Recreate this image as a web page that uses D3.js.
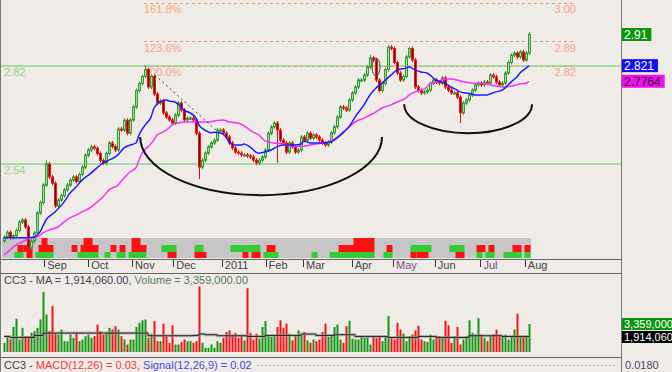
<!DOCTYPE html>
<html>
<head>
<meta charset="utf-8">
<script src="https://cdn.jsdelivr.net/npm/d3@7"></script>
<style>
html, body { margin: 0; padding: 0; background: #efebe6; }
svg { display: block; font-family: "Liberation Sans", Arial, sans-serif; }
</style>
</head>
<body>
<svg width="672" height="372"></svg>
<script>
// ---- data ----
var firstOpen = 2.32;
var closes = [
  2.331, 2.345, 2.33, 2.335, 2.35, 2.374, 2.38, 2.36, 2.30, 2.32,
  2.343, 2.40, 2.43, 2.48, 2.54, 2.503, 2.485, 2.42, 2.437, 2.45,
  2.466, 2.48, 2.494, 2.503, 2.49, 2.51, 2.531, 2.565, 2.58, 2.589,
  2.585, 2.57, 2.55, 2.543, 2.57, 2.60, 2.59, 2.58, 2.64, 2.637,
  2.665, 2.628, 2.666, 2.703, 2.75, 2.77, 2.79, 2.81, 2.76, 2.79,
  2.74, 2.714, 2.72, 2.686, 2.674, 2.666, 2.657, 2.68, 2.714, 2.694,
  2.666, 2.671, 2.671, 2.666, 2.628, 2.531, 2.551, 2.571, 2.589, 2.60,
  2.608, 2.637, 2.637, 2.628, 2.617, 2.60, 2.586, 2.574, 2.571, 2.566,
  2.566, 2.563, 2.56, 2.551, 2.543, 2.551, 2.56, 2.58, 2.628, 2.646,
  2.657, 2.637, 2.608, 2.60, 2.574, 2.60, 2.589, 2.574, 2.58, 2.617,
  2.608, 2.628, 2.614, 2.623, 2.617, 2.608, 2.60, 2.594, 2.603, 2.629,
  2.646, 2.674, 2.703, 2.70, 2.694, 2.723, 2.743, 2.76, 2.78, 2.78,
  2.794, 2.817, 2.843, 2.837, 2.78, 2.75, 2.77, 2.81, 2.874, 2.87,
  2.83, 2.80, 2.78, 2.79, 2.846, 2.87, 2.837, 2.76, 2.75, 2.743,
  2.746, 2.751, 2.77, 2.78, 2.774, 2.771, 2.786, 2.76, 2.751, 2.743,
  2.743, 2.731, 2.686, 2.714, 2.723, 2.737, 2.751, 2.766, 2.771, 2.766,
  2.774, 2.771, 2.794, 2.789, 2.774, 2.766, 2.771, 2.80, 2.83, 2.851,
  2.857, 2.846, 2.86, 2.837, 2.857, 2.91
];
// [bar, low or high] where the wick sticks out far
var longWicks = [[14, 2.55], [47, 2.822], [65, 2.497], [91, 2.543], [122, 2.852], [128, 2.88], [152, 2.657], [175, 2.917]];

// volume in millions
var volumes = [
  1.1, 1.9, 1.5, 3.0, 4.0, 1.5, 2.9, 1.9, 1.9, 2.3,
  2.5, 2.9, 3.9, 7.2, 4.5, 2.5, 5.5, 2.2, 2.1, 2.7,
  1.3, 1.3, 2.1, 1.7, 2.4, 1.3, 1.5, 1.9, 2.1, 1.7,
  1.9, 3.3, 2.5, 2.1, 2.3, 2.9, 2.7, 3.1, 2.7, 1.9,
  1.5, 0.9, 1.5, 1.5, 3.0, 3.5, 3.8, 3.9, 1.7, 2.2,
  3.7, 1.3, 1.3, 3.4, 1.9, 1.1, 3.2, 0.9, 0.9, 1.2,
  1.5, 1.3, 1.3, 1.1, 1.3, 7.85, 1.1, 0.5, 0.5, 0.9,
  0.5, 1.3, 1.1, 1.7, 2.4, 2.6, 2.1, 2.3, 1.7, 1.9,
  1.4, 7.65, 2.3, 1.5, 2.2, 1.6, 3.0, 3.7, 2.0, 1.8,
  1.9, 3.0, 3.8, 2.9, 3.4, 2.2, 1.4, 2.0, 2.6, 2.0,
  2.4, 1.4, 1.1, 1.5, 1.3, 1.5, 2.4, 3.4, 1.8, 2.1,
  3.0, 3.3, 1.5, 1.1, 3.1, 3.75, 1.6, 1.5, 1.5, 1.9,
  1.7, 1.8, 0.9, 1.9, 1.7, 1.9, 1.3, 1.8, 4.3, 1.7,
  1.5, 3.5, 2.7, 2.2, 1.3, 1.9, 2.1, 2.6, 3.15, 1.5,
  1.3, 1.2, 2.1, 1.5, 1.9, 1.9, 1.75, 3.75, 3.2, 1.1,
  1.9, 3.0, 0.9, 1.5, 1.9, 3.8, 2.3, 2.1, 4.06, 2.1,
  1.7, 1.3, 1.9, 2.1, 2.7, 2.1, 1.9, 2.1, 1.5, 1.9,
  2.7, 4.6, 1.9, 1.9, 1.9, 3.359
];
var volMA = [[0, 1.87], [2, 1.75], [10, 1.99], [13, 2.27], [21, 2.27], [32, 2.27], [45, 2.27], [48, 1.95],
  [54, 1.95], [63, 1.99], [65, 2.15], [67, 2.07], [71, 1.95], [76, 1.95], [81, 1.87], [87, 1.99],
  [99, 2.15], [104, 1.99], [110, 2.07], [115, 2.07], [117, 1.87], [126, 1.87], [128, 1.75],
  [138, 1.87], [144, 1.75], [155, 1.95], [162, 1.95], [166, 1.87], [175, 1.914]];

// moving averages, [bar, price]
var blueMA = [[0, 2.329], [5, 2.329], [10, 2.331], [12, 2.346], [14, 2.38], [17, 2.403], [20, 2.431],
  [22, 2.457], [24, 2.474], [26, 2.494], [29, 2.514], [31, 2.529], [33, 2.543], [35, 2.551],
  [38, 2.566], [40, 2.586], [42, 2.594], [44, 2.60], [45, 2.623], [47, 2.651], [49, 2.674],
  [50, 2.70], [52, 2.717], [54, 2.723], [55, 2.72], [57, 2.717], [59, 2.703], [60, 2.694],
  [62, 2.686], [64, 2.671], [65, 2.651], [67, 2.637], [69, 2.629], [70, 2.631], [72, 2.629],
  [74, 2.617], [75, 2.603], [77, 2.594], [79, 2.594], [80, 2.597], [82, 2.589], [84, 2.574],
  [85, 2.571], [87, 2.574], [89, 2.58], [91, 2.589], [93, 2.594], [97, 2.594], [99, 2.597],
  [100, 2.606], [102, 2.60], [106, 2.60], [109, 2.603], [111, 2.614], [113, 2.629], [115, 2.646],
  [117, 2.674], [120, 2.709], [122, 2.737], [124, 2.757], [126, 2.771], [129, 2.794], [131, 2.809],
  [134, 2.814], [135, 2.817], [137, 2.809], [139, 2.803], [141, 2.80], [142, 2.794], [144, 2.78],
  [146, 2.774], [147, 2.771], [149, 2.76], [151, 2.751], [152, 2.746], [154, 2.743], [156, 2.74],
  [157, 2.737], [161, 2.737], [162, 2.74], [164, 2.746], [166, 2.751], [167, 2.757], [169, 2.774],
  [171, 2.789], [172, 2.80], [174, 2.814], [175, 2.821]];
var pinkMA = [[0, 2.28], [2, 2.294], [4, 2.309], [6, 2.317], [9, 2.329], [11, 2.331], [13, 2.343],
  [15, 2.351], [18, 2.36], [20, 2.374], [22, 2.386], [24, 2.394], [26, 2.403], [29, 2.417],
  [31, 2.431], [33, 2.446], [35, 2.466], [38, 2.48], [40, 2.50], [42, 2.517], [44, 2.53],
  [45, 2.551], [46, 2.571], [48, 2.589], [50, 2.609], [51, 2.623], [53, 2.631], [55, 2.643],
  [56, 2.651], [58, 2.657], [60, 2.66], [68, 2.66], [70, 2.663], [73, 2.666], [75, 2.66],
  [78, 2.657], [80, 2.649], [81, 2.643], [83, 2.631], [85, 2.623], [86, 2.614], [87, 2.606],
  [90, 2.60], [93, 2.597], [95, 2.594], [97, 2.591], [100, 2.591], [102, 2.594], [104, 2.597],
  [106, 2.60], [109, 2.606], [111, 2.617], [113, 2.631], [115, 2.646], [117, 2.66], [120, 2.671],
  [122, 2.68], [124, 2.689], [126, 2.70], [129, 2.709], [131, 2.717], [134, 2.729], [135, 2.737],
  [137, 2.746], [139, 2.751], [141, 2.76], [142, 2.771], [144, 2.774], [146, 2.78], [147, 2.783],
  [149, 2.783], [151, 2.78], [152, 2.777], [154, 2.774], [156, 2.771], [159, 2.771], [161, 2.769],
  [162, 2.766], [164, 2.763], [166, 2.76], [167, 2.76], [169, 2.763], [171, 2.766], [172, 2.769],
  [174, 2.771], [175, 2.7764]];

// sentiment strip: [fromBar, toBar, row (0 top .. 2 bottom), colour]
var strip = [[4, 6, 2, "g"], [5, 6, 1, "r"], [7, 9, 1, "r"], [8, 9, 2, "r"], [11, 16, 2, "g"], [12, 16, 1, "r"],
  [13, 14, 0, "r"], [23, 24, 1, "r"], [25, 31, 2, "g"], [26, 31, 1, "r"], [27, 29, 0, "r"], [34, 35, 2, "g"],
  [36, 37, 1, "r"], [38, 40, 2, "g"], [39, 40, 1, "r"], [42, 47, 2, "g"], [43, 47, 1, "r"], [43, 45, 0, "r"],
  [53, 57, 1, "g"], [55, 57, 2, "r"], [64, 67, 2, "r"], [64, 66, 1, "g"], [76, 80, 1, "g"], [80, 81, 2, "r"],
  [81, 85, 1, "g"], [83, 85, 2, "r"], [87, 91, 2, "g"], [88, 90, 1, "r"], [103, 104, 2, "g"],
  [109, 123, 2, "g"], [112, 123, 1, "r"], [117, 123, 0, "r"], [127, 129, 2, "g"], [128, 129, 1, "r"],
  [136, 142, 1, "g"], [136, 137, 2, "r"], [138, 141, 2, "r"], [149, 153, 1, "g"], [151, 153, 2, "r"],
  [158, 160, 1, "r"], [158, 159, 2, "g"], [161, 163, 2, "g"], [162, 163, 1, "r"], [167, 172, 2, "g"],
  [170, 172, 1, "r"], [174, 175, 1, "r"], [174, 175, 2, "g"]];

var monthLabels = ["Sep", "Oct", "Nov", "Dec", "2011", "Feb", "Mar", "Apr", "May", "Jun", "Jul", "Aug"];
var monthBars = [13.4, 28.1, 42.7, 56.4, 72.6, 87.2, 99.7, 115.9, 129.7, 143.6, 158.8, 173.6];

var supportLevels = [2.82, 2.54];
var fibLevels = [3.00, 2.89, 2.82];
var fibNames = ["161.8%", "123.6%", "100.0%"];

// ---- scales ----
var svg = d3.select("svg"),
  width = +svg.attr("width"),
  height = +svg.attr("height");

var axisX = 621;
var x = d3.scaleLinear().domain([0, closes.length - 1]).range([4, 529]);
var y = d3.scaleLinear().domain([2.54, 2.82]).range([164, 66]);
var yVol = d3.scaleLinear().domain([0, 3.359]).range([352, 324]);

var opens = closes.map(function(c, i) { return i === 0 ? firstOpen : closes[i - 1]; });
var bars = closes.map(function(c, i) {
  return { i: i, o: opens[i], c: c, up: c >= opens[i], v: volumes[i] };
});
longWicks.forEach(function(w) { bars[w[0]].tip = w[1]; });

svg.append("rect").attr("width", width).attr("height", height).attr("fill", "#efebe6");

// support lines
supportLevels.forEach(function(p) {
  svg.append("line")
    .attr("x1", 0).attr("x2", axisX)
    .attr("y1", y(p)).attr("y2", y(p))
    .attr("stroke", "#a6dca6").attr("stroke-width", 2);
  svg.append("text")
    .attr("x", 4).attr("y", y(p) + 10)
    .attr("fill", "#94d094").style("font-size", "11px")
    .text(d3.format(".2f")(p));
});

// fibonacci levels
fibLevels.forEach(function(p, k) {
  svg.append("line")
    .attr("x1", 144).attr("x2", 576)
    .attr("y1", Math.round(y(p)) + 0.5).attr("y2", Math.round(y(p)) + 0.5)
    .attr("stroke", "#f0946a").attr("stroke-dasharray", "3,3");
  svg.append("text")
    .attr("x", 144).attr("y", y(p) + 10)
    .attr("fill", "#f4a585").style("font-size", "11px")
    .text(fibNames[k]);
  svg.append("text")
    .attr("x", 576).attr("y", y(p) + 10)
    .attr("text-anchor", "end")
    .attr("fill", "#f4a585").style("font-size", "11px")
    .text(d3.format(".2f")(p));
});

// sentiment strip
var rowY = [238, 245, 252], rowH = [7, 7, 6];
svg.append("rect")
  .attr("x", x(0) - 2).attr("y", 238)
  .attr("width", x(closes.length - 1) - x(0) + 4).attr("height", 20)
  .attr("fill", "#c6c6c6");
svg.append("g").selectAll("rect")
  .data(strip)
  .enter().append("rect")
  .attr("x", function(d) { return x(d[0]) - 1.5; })
  .attr("width", function(d) { return x(d[1]) - x(d[0]) + 3; })
  .attr("y", function(d) { return rowY[d[2]]; })
  .attr("height", function(d) { return rowH[d[2]]; })
  .attr("fill", function(d) { return d[3] === "r" ? "#ff1010" : "#33cc33"; });

// candles
var candle = svg.append("g").selectAll("g")
  .data(bars)
  .enter().append("g");
candle.append("line")
  .attr("x1", function(d) { return x(d.i) + 0.5; })
  .attr("x2", function(d) { return x(d.i) + 0.5; })
  .attr("y1", function(d) {
    var top = y(Math.max(d.o, d.c)) - 2;
    return d.tip && d.tip > d.c ? Math.min(top, y(d.tip)) : top;
  })
  .attr("y2", function(d) {
    var bot = y(Math.min(d.o, d.c)) + 2;
    return d.tip && d.tip < d.c ? Math.max(bot, y(d.tip)) : bot;
  })
  .attr("stroke", function(d) { return d.up ? "#2e9e2e" : "#e01010"; });
candle.append("rect")
  .attr("x", function(d) { return x(d.i) - 0.5; })
  .attr("width", 2)
  .attr("y", function(d) { return y(Math.max(d.o, d.c)); })
  .attr("height", function(d) { return Math.max(1, Math.abs(y(d.o) - y(d.c))); })
  .attr("fill", function(d) { return d.up ? "#a9d8a2" : "#7a0000"; })
  .attr("stroke", function(d) { return d.up ? "#2e9e2e" : "#ee1a1a"; });

// moving averages
var maLine = d3.line()
  .x(function(d) { return x(d[0]); })
  .y(function(d) { return y(d[1]); })
  .curve(d3.curveMonotoneX);
svg.append("path").datum(pinkMA).attr("d", maLine)
  .attr("fill", "none").attr("stroke", "#ff2cff").attr("stroke-width", 1.5);
svg.append("path").datum(blueMA).attr("d", maLine)
  .attr("fill", "none").attr("stroke", "#1c1cff").attr("stroke-width", 1.5);

// hand drawn annotations (cups, trend line, circle)
function cup(ci, cp, ri, rp) {
  var x0 = x(ci - ri), x1 = x(ci + ri), yc = y(cp);
  var rx = (x1 - x0) / 2, ry = y(cp - rp) - yc;
  return "M" + x0 + "," + yc + " A" + rx + "," + ry + " 0 0 0 " + x1 + "," + yc;
}
svg.append("path").attr("d", cup(85.7, 2.617, 40.3, 0.166))
  .attr("fill", "none").attr("stroke", "#111").attr("stroke-width", 2);
svg.append("path").attr("d", cup(154.7, 2.711, 21.3, 0.083))
  .attr("fill", "none").attr("stroke", "#111").attr("stroke-width", 2);
svg.append("line")
  .attr("x1", x(50.3)).attr("y1", y(2.794))
  .attr("x2", x(70.7)).attr("y2", y(2.637))
  .attr("stroke", "#444").attr("stroke-dasharray", "2,3");
svg.append("ellipse")
  .attr("cx", x(124)).attr("cy", y(2.817)).attr("rx", 4).attr("ry", 9)
  .attr("fill", "none").attr("stroke", "#444");

// frame
[259.5, 273.5, 357.5].forEach(function(v) {
  svg.append("line").attr("x1", 0).attr("x2", axisX).attr("y1", v).attr("y2", v)
    .attr("stroke", "#666");
});
svg.append("line").attr("x1", axisX + 0.5).attr("x2", axisX + 0.5).attr("y1", 0).attr("y2", height)
  .attr("stroke", "#777");
svg.append("line").attr("x1", 0.5).attr("x2", 0.5).attr("y1", 0).attr("y2", height)
  .attr("stroke", "#777");

// month axis
var months = svg.append("g").selectAll("g")
  .data(monthBars)
  .enter().append("g");
months.append("line")
  .attr("x1", function(d) { return Math.round(x(d)) + 0.5; })
  .attr("x2", function(d) { return Math.round(x(d)) + 0.5; })
  .attr("y1", 260).attr("y2", 267)
  .attr("stroke", "#333");
months.append("text")
  .attr("x", function(d) { return x(d) + 3; })
  .attr("y", 269)
  .style("font-size", "11px")
  .attr("fill", function(d, k) { return monthLabels[k] === "May" || monthLabels[k] === "Jul" ? "#7a4a8c" : "#444"; })
  .text(function(d, k) { return monthLabels[k]; });

// value tags on the right
function tag(txt, bg, fg, yy, size, h) {
  var g = svg.append("g");
  var t = g.append("text").attr("x", axisX + 3).attr("y", yy + size * 0.37)
    .style("font-size", size + "px").attr("fill", fg).text(txt);
  var w = Math.min(t.node().getComputedTextLength() + 6, width - axisX - 1);
  g.insert("rect", "text").attr("x", axisX + 1).attr("y", yy - h / 2)
    .attr("width", w).attr("height", h).attr("fill", bg);
}
tag("2.91", "#0b960b", "#fff", y(2.91), 12, 13);
tag("2.821", "#1212f0", "#fff", y(2.821), 12, 13);
tag("2.7764", "#ee10ee", "#3a003a", y(2.7764), 12, 13);

// volume panel
svg.append("g").selectAll("rect")
  .data(bars)
  .enter().append("rect")
  .attr("x", function(d) { return x(d.i) - 0.5; })
  .attr("width", 2)
  .attr("y", function(d) { return yVol(d.v); })
  .attr("height", function(d) { return yVol(0) - yVol(d.v); })
  .attr("fill", function(d) { return d.up ? "#149614" : "#f21414"; });
var volLine = d3.line()
  .x(function(d) { return x(d[0]); })
  .y(function(d) { return yVol(d[1]); })
  .curve(d3.curveStepAfter);
svg.append("path").datum(volMA).attr("d", volLine)
  .attr("fill", "none").attr("stroke", "#999").attr("stroke-width", 3).attr("opacity", 0.6);
svg.append("path").datum(volMA).attr("d", volLine)
  .attr("fill", "none").attr("stroke", "#222").attr("stroke-width", 1);

var vt = svg.append("text").attr("x", 4).attr("y", 284).style("font-size", "11px");
vt.append("tspan").attr("fill", "#4a3c56").text("CC3 - MA = 1,914,060.00, ");
vt.append("tspan").attr("fill", "#5c7a5c").text("Volume = 3,359,000.00");

tag("3,359,000", "#0b960b", "#fff", 324, 11, 12);
tag("1,914,060", "#000", "#fff", 337, 11, 12);

// MACD header
var mt = svg.append("text").attr("x", 4).attr("y", 369).style("font-size", "11px");
mt.append("tspan").attr("fill", "#4a3c56").text("CC3 - ");
mt.append("tspan").attr("fill", "#f03c3c").text("MACD(12,26) = 0.03, ");
mt.append("tspan").attr("fill", "#4848e8").text("Signal(12,26,9) = 0.02");
var mtEnd = 4 + mt.node().getComputedTextLength();
svg.append("line").attr("x1", mtEnd + 6).attr("x2", axisX - 3)
  .attr("y1", 365.5).attr("y2", 365.5)
  .attr("stroke", "#777").attr("stroke-dasharray", "1,3");
svg.append("text").attr("x", axisX + 4).attr("y", 369)
  .style("font-size", "11px").attr("fill", "#4a4a6a").text("0.0180");
</script>
</body>
</html>
